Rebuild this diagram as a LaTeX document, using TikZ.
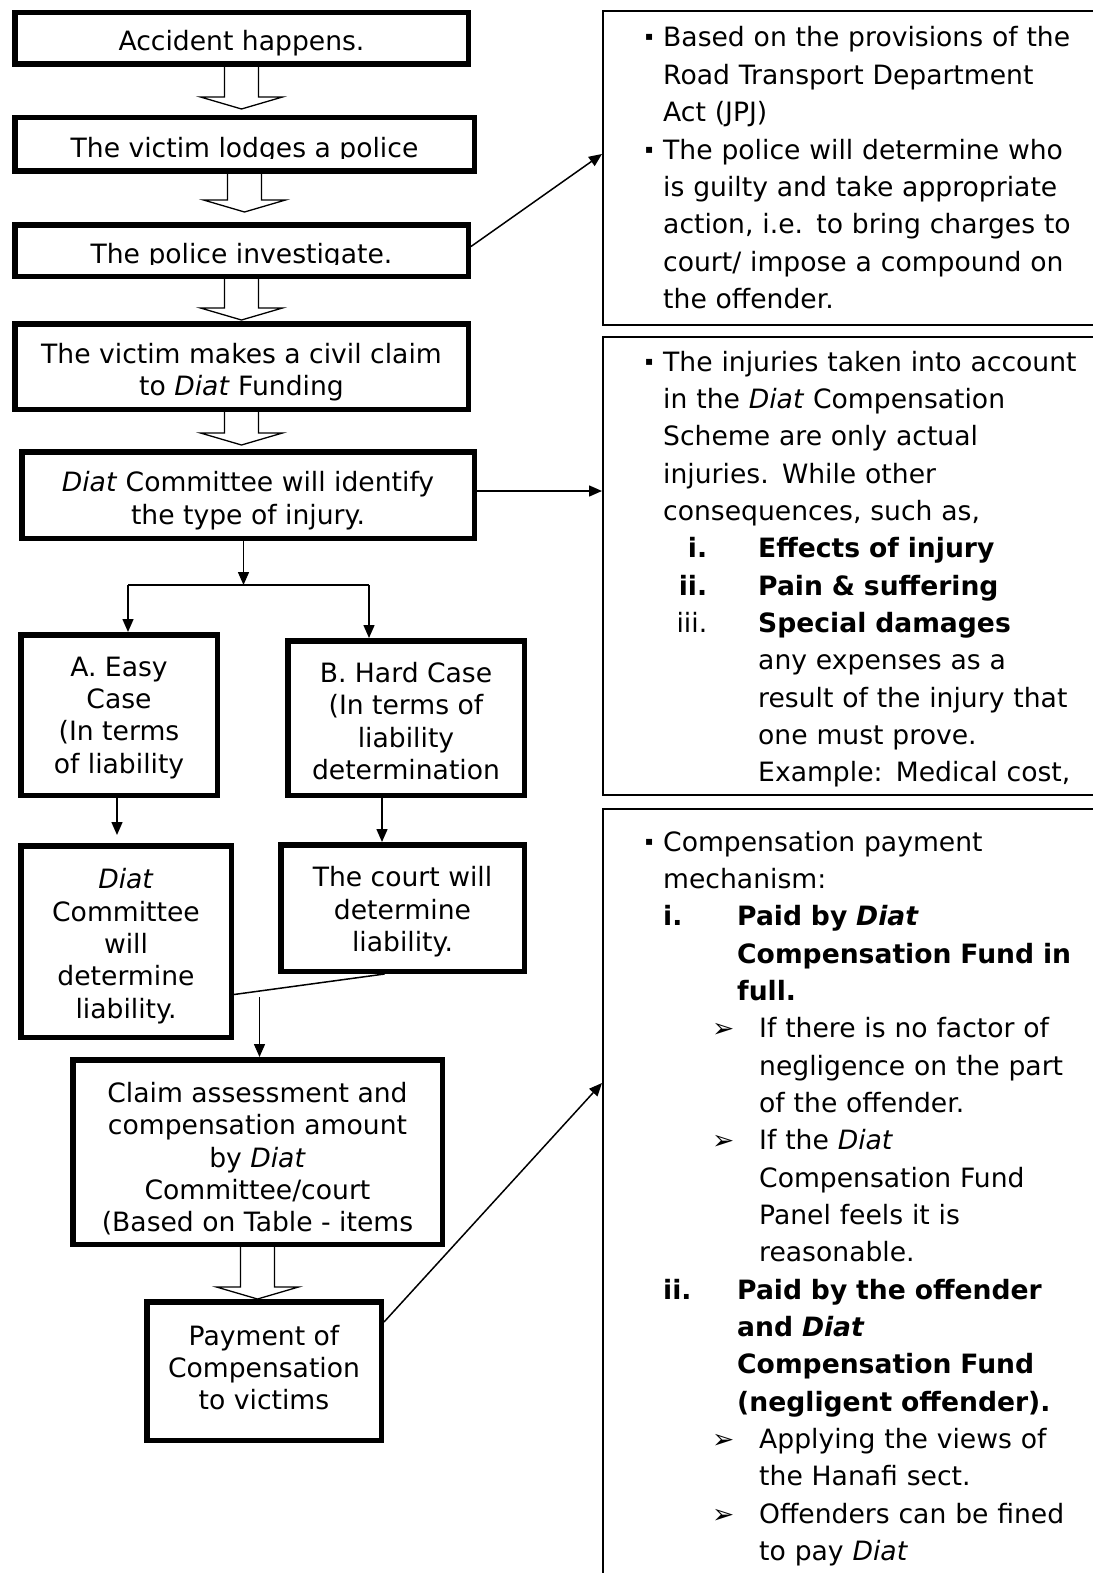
\documentclass[tikz,border=0pt]{standalone}
\usepackage{fontspec}
\setmainfont{DejaVu Sans}
\usetikzlibrary{positioning,arrows.meta,calc}

\newcommand{\notebullet}{\makebox[22pt][l]{\hspace{4pt}\raisebox{6pt}{\fontsize{12}{12}\selectfont ▪}}}
\newcommand{\indentby}[1]{\hspace*{#1}}
\newcommand{\listnum}[1]{\makebox[117pt][l]{\makebox[66pt][r]{#1}}}
\newcommand{\sublist}[1]{\hspace*{22pt}\makebox[74pt][l]{#1}}
\newcommand{\arrowitem}{\hspace*{71pt}\makebox[47pt][l]{➢}}
\newcommand{\lift}[1]{\rule{0pt}{#1}}

\tikzset{
  stage/.style={draw, rectangle, line width=5.5pt, inner sep=0pt, align=center,
    font=\fontsize{26.6}{32.3}\selectfont, text depth=0pt},
  stagetext/.style={draw=none, inner sep=0pt, font=\fontsize{26.6}{32.3}\selectfont},
  notebox/.style={draw, rectangle, line width=1.8pt, inner sep=0pt},
  notetext/.style={anchor=base west, inner sep=0pt, align=left, text width=470pt,
    font=\fontsize{26.6}{37.35}\selectfont},
  flow/.style={line width=1.5pt, -{Triangle[length=13pt,width=11pt]}},
  link/.style={line width=1.5pt},
  hollow/.style={line width=1.3pt, to path={let \p1=(\tikztostart.south), \p2=(\tikztotarget.north) in
    (\x1-17pt,\y1) -- (\x1-17pt,\y2+#1+12pt) -- (\x1-41pt,\y2+#1+12pt) -- (\x1,\y2+#1)
    -- (\x1+41pt,\y2+#1+12pt) -- (\x1+17pt,\y2+#1+12pt) -- (\x1+17pt,\y1)}},
  hollow/.default=0pt
}

\begin{document}
\begin{tikzpicture}[x=1pt,y=-1pt]
  \useasboundingbox (0,0) rectangle (1092,1573);
  % the steps on the left
  \node[stage, minimum width=453.5pt, minimum height=51.5pt] (acc) at (241.5,38.5) {\lift{24pt}Accident happens.};
  \node[stage, minimum width=459.5pt, minimum height=53.5pt, below=48pt of acc, xshift=3pt,
    path picture={\path[clip, draw=none] (path picture bounding box.north west) rectangle ([yshift=13pt]path picture bounding box.south east);
      \node[stagetext, anchor=base] at ([yshift=14pt]path picture bounding box.south) {The victim lodges a police};}] (lodge) {};
  \node[stage, minimum width=453.5pt, minimum height=51.5pt, below=48pt of lodge, xshift=-3pt,
    path picture={\path[clip, draw=none] (path picture bounding box.north west) rectangle ([yshift=12pt]path picture bounding box.south east);
      \node[stagetext, anchor=base] at ([yshift=13pt]path picture bounding box.south) {The police investigate.};}] (invest) {};
  \node[stage, minimum width=453.5pt, minimum height=85.5pt, below=42pt of invest] (claim) {\lift{26pt}The victim makes a civil claim\\to \textit{Diat} Funding};
  \node[stage, minimum width=452.5pt, minimum height=86.5pt, below=37pt of claim, xshift=6.5pt] (identify) {\lift{26pt}\textit{Diat} Committee will identify\\the type of injury.};
  % the two cases
  \node[stage, minimum width=196.5pt, minimum height=160.5pt] (easy) at (119,715) {A. Easy\\Case\\(In terms\\of liability};
  \node[stage, minimum width=236.5pt, minimum height=154.5pt] (hard) at (406,718) {\lift{26pt}B. Hard Case\\(In terms of\\liability\\determination};
  \node[stage, minimum width=210.5pt, minimum height=191.5pt] (diatcom) at (126,941.5) {\lift{24pt}\textit{Diat}\\Committee\\will\\determine\\liability.};
  \node[stage, minimum width=243.5pt, minimum height=126.5pt] (court) at (402.5,908) {\lift{22pt}The court will\\determine\\liability.};
  \node[stage, minimum width=369.5pt, minimum height=184.5pt] (table) at (257.5,1152) {\lift{30pt}Claim assessment and\\compensation amount\\by \textit{Diat}\\Committee/court\\(Based on Table - items};
  \node[stage, minimum width=234.5pt, minimum height=138.5pt, text depth=7.5pt] (pay) at (264,1371) {Payment of\\Compensation\\to victims};

  % the notes on the right
  \node[notebox, minimum width=526.2pt, minimum height=314.2pt] (rules) at (866,168) {};
  \node[notebox, minimum width=526.2pt, minimum height=458.2pt] (injury) at (866,566) {};
  \node[notebox, minimum width=526.2pt, minimum height=810.2pt] (mech) at (866,1214) {};
  \node[notetext] (rulestext) at (641,47) {\notebullet Based on the provisions of the\\
    \indentby{22pt}Road Transport Department\\
    \indentby{22pt}Act (JPJ)\\
    \notebullet The police will determine who\\
    \indentby{22pt}is guilty and take appropriate\\
    \indentby{22pt}action, i.e. to bring charges to\\
    \indentby{22pt}court/ impose a compound on\\
    \indentby{22pt}the offender.};
  \node[notetext] (injurytext) at (641,371) {\notebullet The injuries taken into account\\
    \indentby{22pt}in the \textit{Diat} Compensation\\
    \indentby{22pt}Scheme are only actual\\
    \indentby{22pt}injuries. While other\\
    \indentby{22pt}consequences, such as,\\
    \listnum{\textbf{i.}}\textbf{Effects of injury}\\
    \listnum{\textbf{ii.}}\textbf{Pain \& suffering}\\
    \listnum{iii.}\textbf{Special damages}\\
    \indentby{117pt}any expenses as a\\
    \indentby{117pt}result of the injury that\\
    \indentby{117pt}one must prove.\\
    \indentby{117pt}Example: Medical cost,};
  \node[notetext] (mechtext) at (641,851) {\notebullet Compensation payment\\
    \indentby{22pt}mechanism:\\
    \sublist{\textbf{i.}}\textbf{Paid by \textit{Diat}}\\
    \indentby{96pt}\textbf{Compensation Fund in}\\
    \indentby{96pt}\textbf{full.}\\
    \arrowitem If there is no factor of\\
    \indentby{118pt}negligence on the part\\
    \indentby{118pt}of the offender.\\
    \arrowitem If the \textit{Diat}\\
    \indentby{118pt}Compensation Fund\\
    \indentby{118pt}Panel feels it is\\
    \indentby{118pt}reasonable.\\
    \sublist{\textbf{ii.}}\textbf{Paid by the offender}\\
    \indentby{96pt}\textbf{and \textit{Diat}}\\
    \indentby{96pt}\textbf{Compensation Fund}\\
    \indentby{96pt}\textbf{(negligent offender).}\\
    \arrowitem Applying the views of\\
    \indentby{118pt}the Hanafi sect.\\
    \arrowitem Offenders can be fined\\
    \indentby{118pt}to pay \textit{Diat}};

  % hollow arrows between the steps
  \draw[hollow=6pt] (acc) to (lodge);
  \draw[hollow=10pt] (lodge) to (invest);
  \draw[hollow=1pt] (invest) to (claim);
  \draw[hollow=4pt] (claim) to (identify);
  \draw[hollow] (table) to (pay);

  % split into the two cases
  \coordinate (split) at (243.5,585);
  \coordinate (splitA) at (128,585);
  \coordinate (splitB) at (369,585);
  \draw[flow] (identify.south -| split) -- (split);
  \draw[link] (splitA) -- (splitB);
  \draw[flow] (splitA) -- (splitA |- easy.north);
  \draw[flow] (splitB) -- (splitB |- hard.north);
  \draw[flow, shorten >=8pt] ([xshift=-2pt]easy.south) -- ([xshift=-2pt]easy.south |- diatcom.north);
  \draw[flow] ([xshift=-24pt]hard.south) -- ([xshift=-24pt]hard.south |- court.north);
  % join towards the assessment
  \draw[link] ([yshift=-53pt]diatcom.east) -- ([xshift=-18pt]court.south);
  \coordinate (merge) at (259.5,997);
  \draw[flow] (merge) -- (merge |- table.north);

  % links to the notes
  \draw[flow] ([yshift=4pt]invest.east) -- ([yshift=14pt]rules.west);
  \draw[flow] ([yshift=4pt]identify.east) -- ([yshift=4pt]identify.east -| injury.west);
  \draw[flow] ([yshift=49pt]pay.east) -- ([yshift=131pt]mech.west);
\end{tikzpicture}
\end{document}
